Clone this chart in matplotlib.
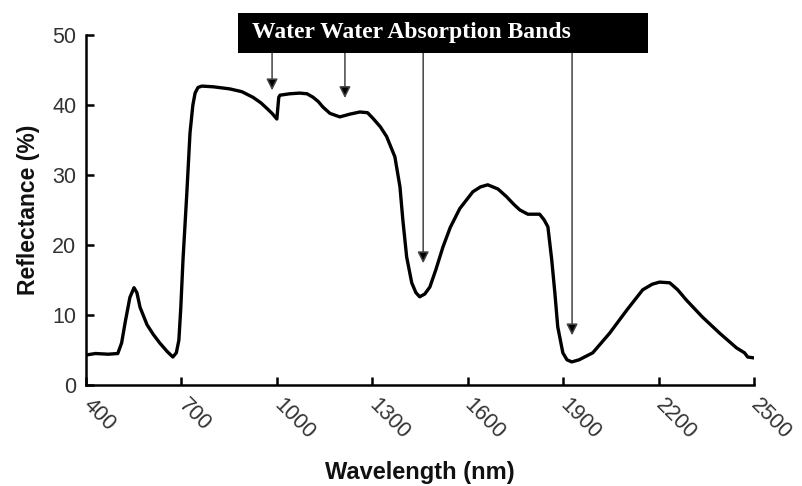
import matplotlib.pyplot as plt
from matplotlib.patches import Rectangle

# spectrum (nm, %)
wavelength = [402, 430, 470, 500, 512, 523, 538, 551, 560, 570, 592, 612, 632, 655, 673,
              684, 692, 698, 705, 717, 727, 736, 743, 752, 764, 800, 852, 890, 925, 950,
              969, 985, 1000, 1006, 1010, 1040, 1072, 1095, 1114, 1130, 1145, 1167, 1198, 1230,
              1261, 1285, 1302, 1325, 1345, 1371, 1387, 1396, 1408, 1424, 1437, 1449, 1465,
              1481, 1500, 1522, 1545, 1575, 1616, 1640, 1663, 1695, 1722, 1745, 1764, 1789,
              1826, 1840, 1852, 1864, 1874, 1883, 1899, 1912, 1927, 1950, 1993, 2046, 2100,
              2150, 2180, 2203, 2235, 2260, 2288, 2338, 2392, 2445, 2470, 2480, 2495]
reflectance = [4.3, 4.5, 4.4, 4.5, 6.0, 8.9, 12.5, 13.9, 13.2, 11.1, 8.6, 7.2, 6.0, 4.8, 4.0,
               4.6, 6.4, 11.0, 17.9, 27.4, 36.0, 40.0, 41.7, 42.5, 42.7, 42.6, 42.3, 41.9, 41.1, 40.3,
               39.5, 38.8, 38.0, 41.1, 41.4, 41.6, 41.7, 41.6, 41.1, 40.5, 39.7, 38.8, 38.3, 38.7,
               39.0, 38.9, 38.1, 36.9, 35.5, 32.6, 28.3, 23.6, 18.3, 14.6, 13.2, 12.6, 13.0,
               14.0, 16.5, 19.7, 22.5, 25.2, 27.6, 28.3, 28.6, 28.0, 26.9, 25.8, 25.0, 24.4,
               24.4, 23.6, 22.6, 17.9, 13.1, 8.3, 4.6, 3.6, 3.3, 3.6, 4.6, 7.4, 10.7,
               13.6, 14.4, 14.7, 14.6, 13.6, 12.1, 9.7, 7.4, 5.3, 4.6, 4.0, 3.9]

# water absorption arrows: (wavelength, tip reflectance)
arrow_x = [985, 1214, 1460, 1928]
arrow_tip = [42.1, 41.0, 17.4, 7.1]
banner_text = 'Water Water Absorption Bands'

xticks = [400, 700, 1000, 1300, 1600, 1900, 2200, 2500]
yticks = [0, 10, 20, 30, 40, 50]

fig = plt.figure(figsize=(8.02, 4.86), dpi=100)
ax = fig.add_axes([0.1072, 0.2078, 0.8330, 0.7202])

ax.plot(wavelength, reflectance, color='black', lw=2.4, solid_joinstyle='round')

ax.set_xlim(400, 2500)
ax.set_ylim(0, 50)
ax.set_xticks(xticks)
ax.set_yticks(yticks)
ax.set_xticklabels([str(t) for t in xticks], rotation=-45, ha='left', va='center',
                   rotation_mode='anchor')
ax.tick_params(direction='in', length=6, width=1.8, labelsize=15.5, labelcolor='#333333')
ax.tick_params(axis='x', pad=12)
ax.tick_params(axis='y', pad=7)
for lab in ax.get_xticklabels() + ax.get_yticklabels():
    lab.set_family('Liberation Sans')
for side in ['top', 'right']:
    ax.spines[side].set_visible(False)
for side in ['left', 'bottom']:
    ax.spines[side].set_linewidth(1.8)

ax.set_ylabel('Reflectance (%)', fontsize=16.5, fontweight='bold', family='Liberation Sans',
              color='#111111', labelpad=9)
ax.set_xlabel('Wavelength (nm)', fontsize=17, fontweight='bold', family='Liberation Sans',
              color='#111111', labelpad=13)

# black banner on top
box = Rectangle((878, 47.4), 1289, 5.7, facecolor='black', edgecolor='none',
                clip_on=False, zorder=5)
ax.add_patch(box)
ax.text(921, 50.3, banner_text, color='white', fontsize=17, fontweight='bold',
        family='Liberation Serif', ha='left', va='center', zorder=6, clip_on=False)

for xa, ya in zip(arrow_x, arrow_tip):
    ax.annotate('', xy=(xa, ya), xytext=(xa, 47.4), annotation_clip=False,
                arrowprops=dict(arrowstyle='-|>', color='#444444', lw=1.1,
                                mutation_scale=17, shrinkA=0, shrinkB=0,
                                fc='black'))

fig.savefig('out.png', dpi=100)
